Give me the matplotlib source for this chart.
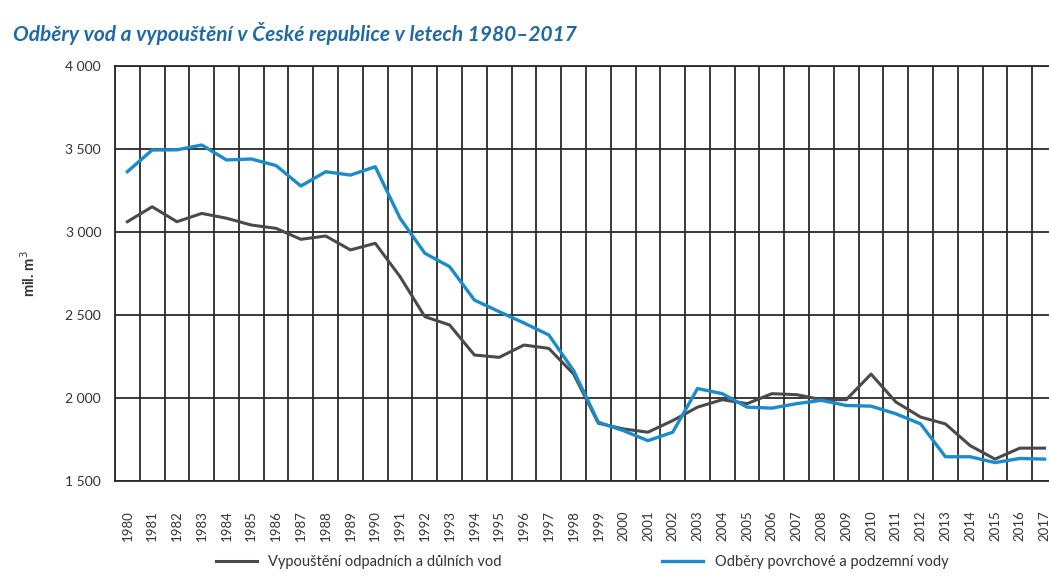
import matplotlib
matplotlib.use("Agg")
import matplotlib.pyplot as plt
from matplotlib.ticker import FixedLocator

plt.rcParams['font.family'] = ['Lato', 'DejaVu Sans']

years = list(range(1980, 2018))

# mil. m3
vypousteni = [3062, 3152, 3062, 3112, 3083, 3042, 3022, 2956, 2976, 2892,
              2932, 2731, 2490, 2440, 2259, 2245, 2319, 2299, 2145, 1848,
              1814, 1794, 1864, 1945, 1990, 1966, 2026, 2020, 1990, 1990,
              2144, 1976, 1885, 1844, 1713, 1632, 1698, 1698]
odbery = [3363, 3494, 3495, 3524, 3434, 3440, 3400, 3277, 3363, 3343,
          3393, 3083, 2872, 2791, 2590, 2520, 2452, 2380, 2165, 1854,
          1804, 1743, 1794, 2057, 2026, 1945, 1939, 1966, 1986, 1955,
          1951, 1905, 1844, 1646, 1646, 1611, 1636, 1632]

y_ticks = [1500, 2000, 2500, 3000, 3500, 4000]
y_labels = ["1 500", "2 000", "2 500", "3 000", "3 500", "4 000"]

grey = "#4a4a4a"
blue = "#1a8ccc"

fig = plt.figure(figsize=(10.49, 5.81), dpi=100)
ax = fig.add_axes([0.1096, 0.1721, 0.898, 0.7143])

x = list(range(len(years)))
ax.plot(x, vypousteni, color=grey, lw=2.2, solid_joinstyle='round',
        label="Vypouštění odpadních a důlních vod", zorder=3)
ax.plot(x, odbery, color=blue, lw=2.4, solid_joinstyle='round',
        label="Odběry povrchové a podzemní vody", zorder=4)

ax.set_xlim(-0.5, len(years) - 0.5)
ax.set_ylim(1500, 4000)

ax.set_xticks(x)
ax.set_xticklabels([str(y) for y in years], rotation=90, fontsize=9.5,
                   color="#333333")
ax.xaxis.set_minor_locator(FixedLocator([i - 0.5 for i in range(len(years) + 1)]))
ax.set_yticks(y_ticks)
ax.set_yticklabels(y_labels, fontsize=10, color="#333333")

ax.grid(False)
ax.grid(True, which='minor', axis='x', color="#2a2a2a", lw=1.3)
ax.grid(True, which='major', axis='y', color="#2a2a2a", lw=1.3)
ax.tick_params(axis='both', which='both', length=0)
ax.tick_params(axis='x', pad=21)
ax.tick_params(axis='y', pad=10)
for s in ax.spines.values():
    s.set_color("#2a2a2a")
    s.set_linewidth(1.3)

ax.set_ylabel("mil. m$^3$", fontsize=10.5, fontweight='bold', color="#333333",
              labelpad=20)

fig.text(0.012, 0.943, "Odběry vod a vypouštění v České republice v letech 1980–2017",
         fontsize=15, fontweight='bold', style='italic', color="#1f6aa5",
         va='center')

fig.legend(loc='center', bbox_to_anchor=(0.555, 0.033), ncol=2, frameon=False,
           fontsize=10.5, handlelength=2.8, columnspacing=11,
           labelcolor="#333333")

fig.savefig("out.png", dpi=100)
